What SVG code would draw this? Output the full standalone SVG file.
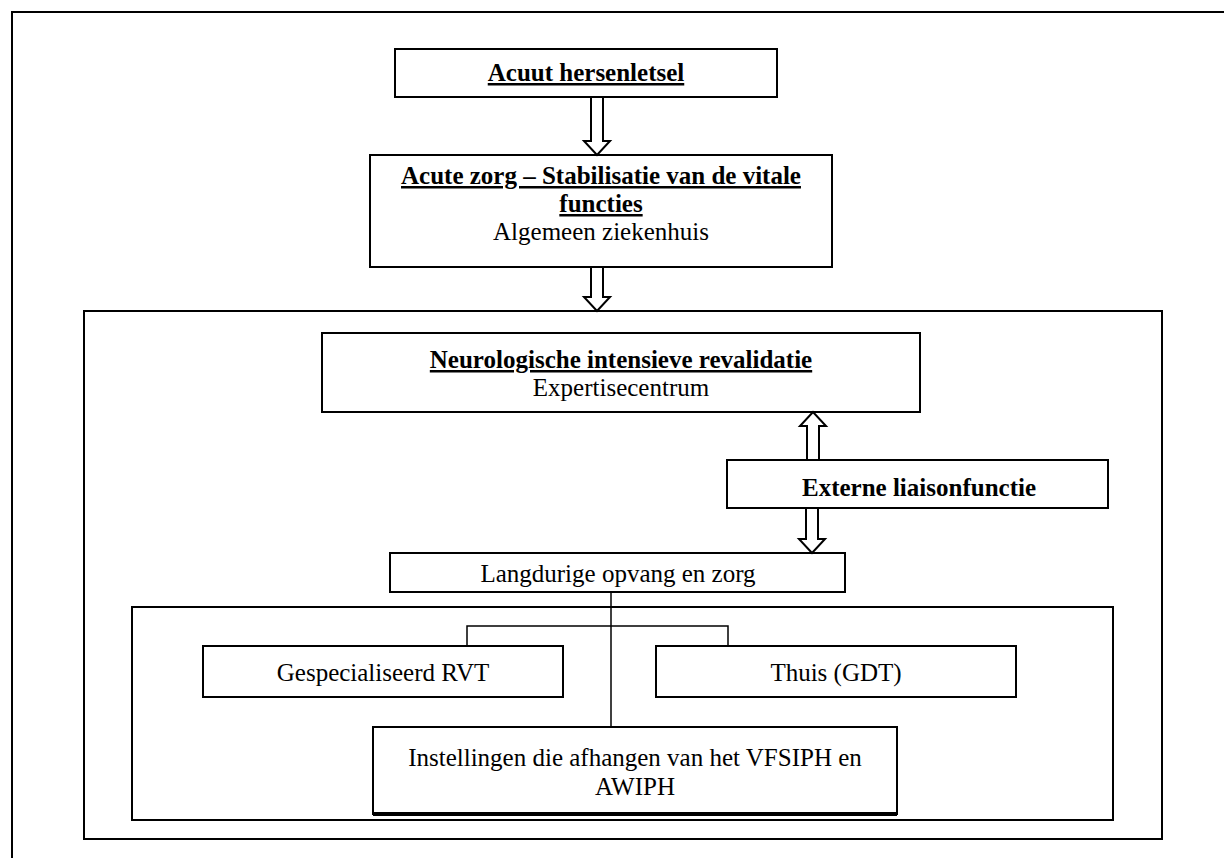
<svg xmlns="http://www.w3.org/2000/svg" width="1224" height="858" viewBox="0 0 1224 858">
<style>
.box{fill:#fff;stroke:#000;stroke-width:2}
.frame{fill:none;stroke:#000;stroke-width:2}
.arr{fill:#fff;stroke:#000;stroke-width:2;stroke-linejoin:miter}
.ln{fill:none;stroke:#000;stroke-width:1.5}
text{font-family:"Liberation Serif","Times New Roman",serif;font-size:25px;fill:#000;text-anchor:middle}
.b{font-weight:bold}
.u{text-decoration:underline}
</style>
<rect width="1224" height="858" fill="#fff"/>
<path class="frame" d="M12 858 L12 12 L1224 12"/>
<rect id="container-outer" class="frame" x="84" y="311" width="1078" height="528"/>
<rect id="container-inner" class="frame" x="132" y="607" width="981" height="213"/>
<g id="n1"><rect class="box" x="395" y="49" width="382" height="48"/><text x="586" y="81" class="b u">Acuut hersenletsel</text></g>
<g id="n2"><rect class="box" x="370" y="155" width="462" height="112"/><text x="601" y="184" class="b u">Acute zorg – Stabilisatie van de vitale</text><text x="601" y="212" class="b u">functies</text><text x="601" y="240">Algemeen ziekenhuis</text></g>
<g id="n3"><rect class="box" x="322" y="333" width="598" height="79"/><text x="621" y="368" class="b u">Neurologische intensieve revalidatie</text><text x="621" y="396">Expertisecentrum</text></g>
<g id="n4"><rect class="box" x="727" y="460" width="381" height="48"/><text x="919" y="496" class="b">Externe liaisonfunctie</text></g>
<g id="n5"><rect class="box" x="390" y="553" width="455" height="39"/><text x="618" y="582">Langdurige opvang en zorg</text></g>
<g id="n6"><rect class="box" x="203" y="646" width="360" height="51"/><text x="383" y="681">Gespecialiseerd RVT</text></g>
<g id="n7"><rect class="box" x="656" y="646" width="360" height="51"/><text x="836" y="681">Thuis (GDT)</text></g>
<g id="n8"><rect class="box" x="373" y="727" width="524" height="87"/><line x1="373" y1="814" x2="897" y2="814" stroke="#000" stroke-width="4"/><text x="635" y="766">Instellingen die afhangen van het VFSIPH en</text><text x="635" y="795">AWIPH</text></g>
<g id="connectors">
<path class="arr" d="M591 97 L603 97 L603 141 L610 141 L597 155 L584 141 L591 141 Z"/>
<path class="arr" d="M591 267 L603 267 L603 297 L610 297 L597 311 L584 297 L591 297 Z"/>
<path class="arr" d="M807 460 L819 460 L819 426 L826 426 L813 412 L800 426 L807 426 Z"/>
<path class="arr" d="M806 508 L818 508 L818 539 L825 539 L812 553 L799 539 L806 539 Z"/>
<line class="ln" x1="611" y1="592" x2="611" y2="727"/>
<path class="ln" d="M467 646 L467 626 L728 626 L728 646"/>
</g>
</svg>
